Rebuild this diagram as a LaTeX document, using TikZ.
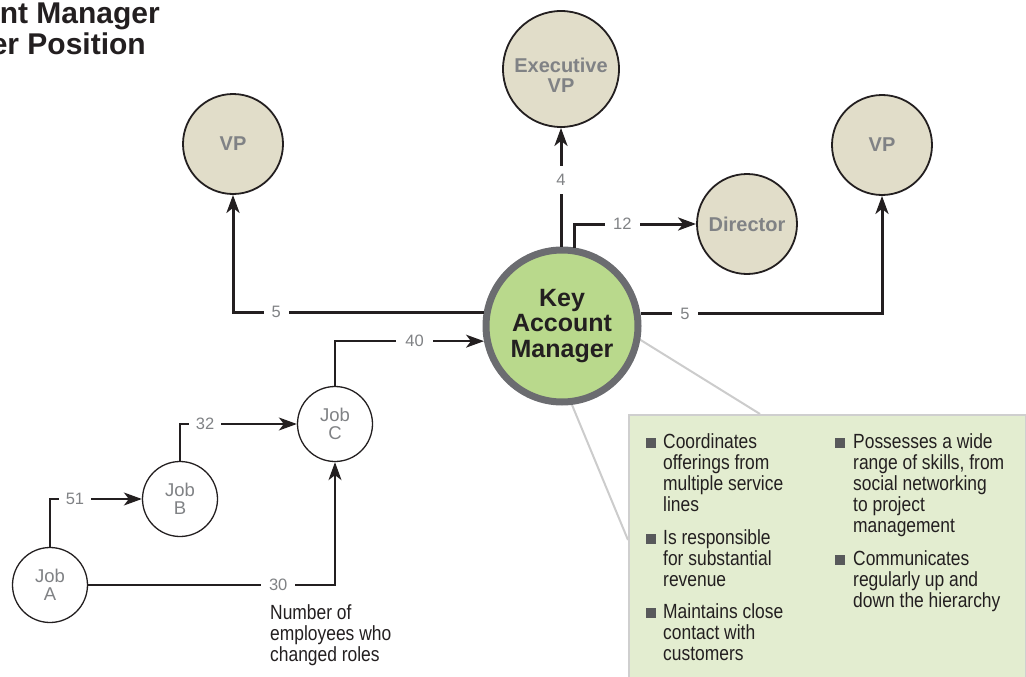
\documentclass[tikz,border=0pt]{standalone}
\usepackage{fontspec}
\setmainfont{Liberation Sans}
\newfontfamily\condfont[FakeStretch=0.85]{Liberation Sans}
\usetikzlibrary{arrows.meta}
\definecolor{kamgreen}{HTML}{B9D98C}
\definecolor{kamborder}{HTML}{6B6C70}
\definecolor{tanfill}{HTML}{E1DDC9}
\definecolor{labgray}{HTML}{808285}
\definecolor{boxfill}{HTML}{E3EDD0}
\definecolor{boxline}{HTML}{CFCFCF}
\definecolor{callout}{HTML}{CCCCCC}
\definecolor{inkblack}{HTML}{231F20}
\definecolor{bulgray}{HTML}{58595B}
\newcommand\bxl[3]{\node[boxtext] (#1) at (#2) {#3};}
\begin{document}
\begin{tikzpicture}[x=1pt,y=-1pt,
  tancirc/.style={circle, draw=inkblack, line width=1.8pt, fill=tanfill, minimum size=100pt, inner sep=0pt,
    font=\fontsize{20}{19.5}\selectfont\bfseries, text=labgray, align=center},
  kamcirc/.style={circle, draw=kamborder, line width=7pt, fill=kamgreen, minimum size=152pt, inner sep=0pt,
    font=\fontsize{25}{25.5}\selectfont\bfseries, text=inkblack, align=center},
  jobcirc/.style={circle, draw=inkblack, line width=1.3pt, fill=white, minimum size=75pt, inner sep=0pt,
    font=\fontsize{18.5}{18}\selectfont, text=labgray, align=center},
  thickconn/.style={draw=inkblack, line width=3pt, -{Stealth[length=18pt,width=13pt,inset=5pt]}},
  thinconn/.style={draw=inkblack, line width=1.5pt, -{Stealth[length=18pt,width=13pt,inset=5pt]}},
  lbl/.style={fill=white, text=labgray, font=\fontsize{16.5}{16}\selectfont, inner xsep=8pt, inner ysep=8pt},
  boxtext/.style={anchor=base west, inner sep=0pt, font=\condfont\fontsize{20.5}{21}\selectfont, text=inkblack},
  bulletsq/.style={rectangle, fill=bulgray, minimum size=10pt, inner sep=0pt},
  titletext/.style={anchor=base east, inner sep=0pt, font=\bfseries\fontsize{30}{30}\selectfont, text=inkblack}
]
\useasboundingbox (0,0) rectangle (1026,677);

% title
\node[titletext] (t1) at (160,24) {nt Manager};
\node[titletext] (t2) at (146,55) {er Position};

% callout lines and box
\coordinate (ca1) at (610,321);
\coordinate (cb1) at (760,414);
\coordinate (ca2) at (565,388);
\coordinate (cb2) at (628,540);
\draw[callout, line width=2pt] (ca1) -- (cb1);
\draw[callout, line width=2pt] (ca2) -- (cb2);
\node[draw=boxline, line width=2pt, fill=boxfill, anchor=north west, minimum width=397pt, minimum height=290pt, inner sep=0pt] (box) at (628,414) {};

% nodes
\node[kamcirc] (kam) at (562,326) {Key\\Account\\Manager};
\node[tancirc, minimum size=116pt] (evp) at (561,69) {\raisebox{-9pt}[\height][\depth]{\begin{tabular}{@{}c@{}}Executive\\VP\end{tabular}}};
\node[tancirc] (vpl) at (233,144) {VP};
\node[tancirc] (vpr) at (882,145) {VP};
\node[tancirc] (dir) at (747,224) {Director};
\node[jobcirc] (jobc) at (335,424) {Job\\C};
\node[jobcirc] (jobb) at (180,499) {Job\\B};
\node[jobcirc] (joba) at (50,585) {Job\\A};

% thick connectors
\coordinate (dstart) at (574,248);
\draw[thickconn] (evp |- kam.north) -- node[lbl, pos=0.56] (l4) {4} (evp);
\draw[thickconn] (dstart) |- node[lbl, pos=0.698] (l12) {12} (dir);
\draw[thickconn] (kam.170.6) -| node[lbl, pos=0.414] (l5a) {5} (vpl);
\draw[thickconn] (kam.9.4) -| node[lbl, pos=0.092] (l5b) {5} (vpr);

% thin connectors
\draw[thinconn] (jobc) |- node[lbl, pos=0.767, inner xsep=9pt] (l40) {40} (kam.191.6);
\draw[thinconn] (jobb) |- node[lbl, pos=0.607, inner xsep=7pt] (l32) {32} (jobc);
\draw[thinconn] (joba) |- node[lbl, pos=0.636, inner xsep=7pt] (l51) {51} (jobb);
\draw[thinconn] (joba) -| node[lbl, pos=0.385, inner xsep=8pt] (l30) {30} (jobc);

% description
\bxl{d1}{270,619}{Number of}
\bxl{d2}{270,640}{employees who}
\bxl{d3}{270,661}{changed roles}

% box contents left column
\node[bulletsq] (b1) at (651,443) {};
\bxl{x1}{663,448}{Coordinates}
\bxl{x2}{663,469}{offerings from}
\bxl{x3}{663,490}{multiple service}
\bxl{x4}{663,511}{lines}
\node[bulletsq] (b2) at (651,539) {};
\bxl{x5}{663,544}{Is responsible}
\bxl{x6}{663,565}{for substantial}
\bxl{x7}{663,586}{revenue}
\node[bulletsq] (b3) at (651,613) {};
\bxl{x8}{663,618}{Maintains close}
\bxl{x9}{663,639}{contact with}
\bxl{x10}{663,660}{customers}
% right column
\node[bulletsq] (b4) at (840,443) {};
\bxl{y1}{853,448}{Possesses a wide}
\bxl{y2}{853,469}{range of skills, from}
\bxl{y3}{853,490}{social networking}
\bxl{y4}{853,511}{to project}
\bxl{y5}{853,532}{management}
\node[bulletsq] (b5) at (840,560) {};
\bxl{y6}{853,565}{Communicates}
\bxl{y7}{853,586}{regularly up and}
\bxl{y8}{853,607}{down the hierarchy}
\end{tikzpicture}
\end{document}
